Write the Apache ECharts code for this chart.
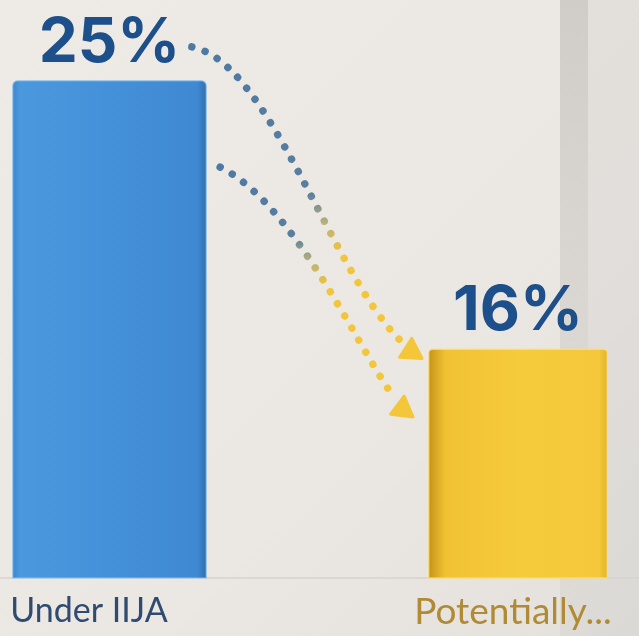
<!DOCTYPE html>
<html>
<head>
<meta charset="utf-8">
<title>IIJA share</title>
<script src="https://cdn.jsdelivr.net/npm/echarts@6/dist/echarts.min.js"></script>
<style>
  html, body { margin: 0; padding: 0; background: #ebe8e4; }
  #chart { width: 639px; height: 636px; }
</style>
</head>
<body>
<div id="chart"></div>
<script>
const categories = ["Under IIJA", "Potentially..."];
const underIija = [25, "-"];
const potentially = ["-", 16];
// dotted arrows as cubic curves: [x0, y0, cx1, cy1, cx2, cy2, x1, y1]
// x on the hidden value axis (0 = first bar, 1 = second bar), y on the value axis
const arrowCurves = [
  [0.216, 26.11, 0.404, 25.6, 0.548, 18.63, 0.716, 16.28],
  [0.284, 22.08, 0.464, 20.81, 0.608, 16.18, 0.7, 14.4],
];

const chart = echarts.init(document.getElementById("chart"));

const blueFill = new echarts.graphic.LinearGradient(0, 0, 1, 0, [
  { offset: 0, color: "#3a84cc" },
  { offset: 0.04, color: "#4b98de" },
  { offset: 0.5, color: "#4591d9" },
  { offset: 0.95, color: "#3e89d1" },
  { offset: 1, color: "#2f6eab" },
]);
const goldFill = new echarts.graphic.LinearGradient(0, 0, 1, 0, [
  { offset: 0, color: "#c4901a" },
  { offset: 0.05, color: "#dcab25" },
  { offset: 0.1, color: "#f1c334" },
  { offset: 0.5, color: "#f5ca3b" },
  { offset: 0.95, color: "#f4c83a" },
  { offset: 1, color: "#e2b22b" },
]);
const arrowFade = [
  [0.5, 0.7],
  [0.31, 0.52],
];
const arrowHeadAngle = [33, 37]; // 箭头朝向(度)

function renderArrow(params, api) {
  const p = [];
  for (let i = 0; i < 4; i++) {
    p.push(api.coord([api.value(i * 2), api.value(i * 2 + 1)]));
  }
  const fade = arrowFade[params.dataIndex];
  const dx = p[3][0] - p[2][0];
  const dy = p[3][1] - p[2][1];
  const len = Math.sqrt(dx * dx + dy * dy);
  const c = [p[3][0] + (dx / len) * 16, p[3][1] + (dy / len) * 16];
  const a = (arrowHeadAngle[params.dataIndex] * Math.PI) / 180;
  const r = 13;
  const pts = [0, 1, 2].map((k) => [
    c[0] + r * Math.cos(a + (k * 2 * Math.PI) / 3),
    c[1] + r * Math.sin(a + (k * 2 * Math.PI) / 3),
  ]);
  return {
    type: "group",
    children: [
      {
        type: "bezierCurve",
        shape: {
          x1: p[0][0], y1: p[0][1],
          cpx1: p[1][0], cpy1: p[1][1],
          cpx2: p[2][0], cpy2: p[2][1],
          x2: p[3][0], y2: p[3][1],
        },
        style: {
          fill: "none",
          stroke: new echarts.graphic.LinearGradient(0, 0, 0, 1, [
            { offset: 0, color: "#4d79a6" },
            { offset: fade[0], color: "#5a7f9e" },
            { offset: (fade[0] + fade[1]) / 2, color: "#b9b27a" },
            { offset: fade[1], color: "#f1c53c" },
            { offset: 1, color: "#f4c63a" },
          ]),
          lineWidth: 7.5,
          lineDash: [0.01, 14],
          lineCap: "round",
        },
      },
      {
        type: "polygon",
        shape: { points: pts },
        style: { fill: "#f4c63a", stroke: "#f4c63a", lineWidth: 3, lineJoin: "round" },
      },
    ],
  };
}

const valueLabel = {
  show: true,
  position: "top",
  distance: 6,
  formatter: "{c}%",
  fontFamily: "Inter",
  fontWeight: "bold",
  fontSize: 62,
  color: "#1d4f8a",
};

const option = {
  backgroundColor: new echarts.graphic.LinearGradient(0, 0, 1, 1, [
    { offset: 0, color: "#eeebe7" },
    { offset: 0.6, color: "#ebe8e4" },
    { offset: 1, color: "#e4e1dd" },
  ]),
  graphic: [
    {
      type: "rect",
      z: -10,
      shape: { x: 560, y: 0, width: 28, height: 636 },
      style: {
        fill: new echarts.graphic.LinearGradient(0, 0, 0, 1, [
          { offset: 0, color: "rgba(110,105,100,0.22)" },
          { offset: 0.5, color: "rgba(110,105,100,0.12)" },
          { offset: 1, color: "rgba(110,105,100,0.06)" },
        ]),
      },
    },
    {
      type: "rect",
      z: -10,
      shape: { x: 588, y: 0, width: 51, height: 636 },
      style: { fill: "rgba(120,115,110,0.07)" },
    },
  ],
  grid: {
    left: -106,
    right: -87,
    top: 80,
    bottom: 58,
    containLabel: false,
    outerBoundsMode: "none",
  },
  xAxis: [
    {
      type: "category",
      data: [
        {
          value: categories[0],
          textStyle: { color: "#2f4c70", fontSize: 34, padding: [0, 26, 0, 0] },
        },
        {
          value: categories[1],
          textStyle: { color: "#b08a34", fontSize: 37, padding: [0, 10, 0, 0] },
        },
      ],
      axisTick: { show: false },
      axisLine: { lineStyle: { color: "#d6d3cf", width: 1.5 } },
      axisLabel: {
        fontFamily: "Lato",
        fontSize: 35,
        margin: 16,
      },
    },
    { type: "value", min: -0.5, max: 1.5, show: false },
  ],
  yAxis: { type: "value", min: 8.3, max: 25, show: false },
  series: [
    {
      type: "bar",
      name: categories[0],
      data: underIija,
      barWidth: 195,
      barGap: "-100%",
      itemStyle: {
        color: blueFill,
        borderRadius: [5, 5, 0, 0],
        borderColor: "rgba(140,195,240,0.6)",
        borderWidth: 1.5,
      },
      label: valueLabel,
    },
    {
      type: "bar",
      name: categories[1],
      data: potentially,
      barWidth: 180,
      barGap: "-100%",
      itemStyle: {
        color: goldFill,
        borderRadius: [4, 4, 0, 0],
        borderColor: "rgba(255,225,120,0.7)",
        borderWidth: 1.5,
      },
      label: valueLabel,
    },
    {
      type: "custom",
      xAxisIndex: 1,
      yAxisIndex: 0,
      silent: true,
      z: 3,
      encode: { x: [0, 2, 4, 6], y: [1, 3, 5, 7] },
      renderItem: renderArrow,
      data: arrowCurves,
    },
  ],
};

chart.setOption(option);
</script>
</body>
</html>
